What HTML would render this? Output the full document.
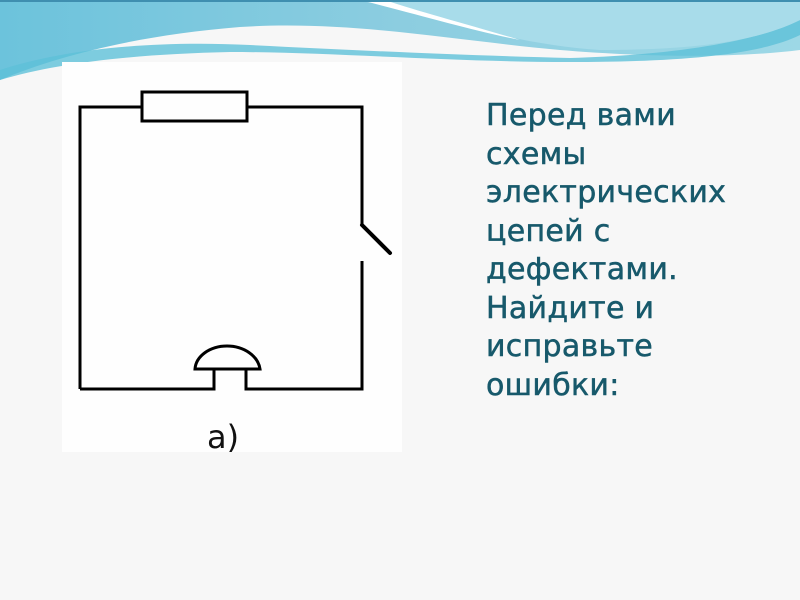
<!DOCTYPE html>
<html><head><meta charset="utf-8"><style>
html,body{margin:0;padding:0}
body{width:800px;height:600px;overflow:hidden;background:#f7f7f7;position:relative}
.t{position:absolute;left:486px;top:97px;font-family:"DejaVu Sans",sans-serif;font-size:30px;letter-spacing:0.3px;line-height:38.5px;color:#17596b;white-space:pre;-webkit-text-stroke:0.5px #17596b}
</style></head><body>
<svg width="800" height="600" style="position:absolute;left:0;top:0">
<defs>
<linearGradient id="g1" x1="0" y1="0" x2="1" y2="0">
<stop offset="0" stop-color="#6cc3dc"/><stop offset="0.5" stop-color="#8ccde0"/><stop offset="1" stop-color="#9dd8e6"/>
</linearGradient>
</defs>
<rect x="0" y="0" width="800" height="100" fill="#f7f7f7"/>
<path d="M0,0 H800 V50 C720,60 620,55 560,50 C450,40 350,20 240,27 C140,35 60,55 0,80 Z" fill="url(#g1)"/>
<path d="M0,70 C60,50 150,40 250,45 C350,50 450,55 570,58 C680,55 760,40 800,20 V35 C760,55 680,62 570,62 C450,62 330,52 230,52 C140,54 60,62 0,80Z" fill="#5ec0d8" opacity="0.8"/>
<path d="M350,0 H800 V20 C760,40 700,50 600,50 C520,45 440,20 390,5 Z" fill="#a8dcea"/>
<path d="M360,0 C420,15 470,30 520,40 C470,25 420,12 385,0Z" fill="#fff"/>
<rect x="0" y="0" width="800" height="2" fill="#3f8fb0"/>
<rect x="62" y="62" width="340" height="390" fill="#fefefe"/>
<g stroke="#000" stroke-width="3" fill="none">
<path d="M80,389 V107 H142 M247,107 H362 V225 M362,261 V389 H246 V369 M214,369 V389 H80"/>
<rect x="142" y="92" width="105" height="29"/>
<path d="M195,369 H260 C258,356 244,346 227,346 C210,346 196,356 195,369 Z"/>
<path d="M362,225 L390,253" stroke-width="4" stroke-linecap="round"/>
</g>
<text x="207" y="448" font-family="DejaVu Sans,sans-serif" font-size="32" fill="#111">а)</text>
</svg>
<div class="t">Перед вами
схемы
электрических
цепей с
дефектами.
Найдите и
исправьте
ошибки:</div>
</body></html>
